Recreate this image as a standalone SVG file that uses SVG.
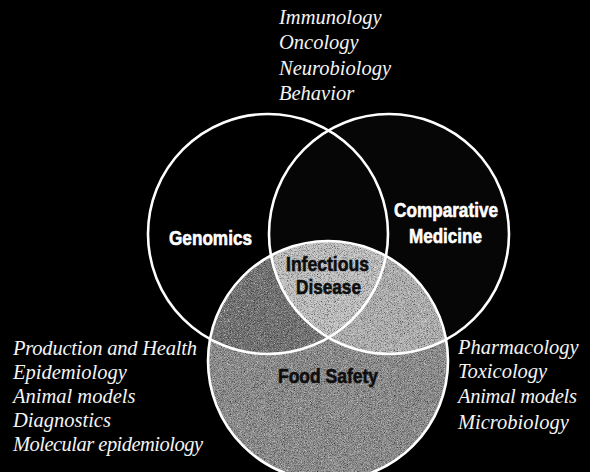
<svg xmlns="http://www.w3.org/2000/svg" width="590" height="472" viewBox="0 0 590 472">
  <defs>
    <style>
      .ring { fill: none; stroke: #ffffff; stroke-width: 2.6; }
      .label { font-family: "Liberation Sans", Arial, sans-serif; font-weight: bold; font-size: 21px; stroke-width: 0.6; stroke-linejoin: round; }
      .light { fill: #ffffff; stroke: #ffffff; }
      .dark { fill: #0e0e0e; stroke: #0e0e0e; }
      .topic { font-family: "Liberation Serif", "Times New Roman", serif; font-style: italic; font-size: 20.5px; fill: #f4f4f4; }
    </style>
    <clipPath id="clip-left"><circle cx="268" cy="234" r="120"/></clipPath>
    <clipPath id="clip-right"><circle cx="389" cy="234" r="120"/></clipPath>
    <!-- fine halftone-like grain for the shaded areas -->
    <filter id="grain" x="0" y="0" width="100%" height="100%" color-interpolation-filters="sRGB">
      <feTurbulence type="fractalNoise" baseFrequency="1.3" numOctaves="1" seed="7" result="noise"/>
      <feColorMatrix in="noise" type="matrix" values="0.33 0.33 0.33 0 0  0.33 0.33 0.33 0 0  0.33 0.33 0.33 0 0  0 0 0 0 1" result="gray"/>
      <feComponentTransfer in="gray" result="contrast">
        <feFuncR type="linear" slope="1.4" intercept="-0.2"/>
        <feFuncG type="linear" slope="1.4" intercept="-0.2"/>
        <feFuncB type="linear" slope="1.4" intercept="-0.2"/>
      </feComponentTransfer>
      <feBlend in="SourceGraphic" in2="contrast" mode="overlay" result="mix"/>
      <feComposite in="mix" in2="SourceGraphic" operator="in"/>
    </filter>
  </defs>

  <rect width="590" height="472" fill="#000000"/>

  <!-- shaded regions of the three sets -->
  <g id="regions">
    <circle cx="389" cy="234" r="120" fill="#060606"/>
    <g filter="url(#grain)">
      <circle cx="328" cy="361" r="120" fill="#8c8c8c"/>
      <g clip-path="url(#clip-left)">
        <circle cx="328" cy="361" r="120" fill="#727272"/>
      </g>
      <g clip-path="url(#clip-right)">
        <circle cx="328" cy="361" r="120" fill="#b0b0b0"/>
      </g>
      <g clip-path="url(#clip-left)">
        <g clip-path="url(#clip-right)">
          <circle cx="328" cy="361" r="120" fill="#c0c0c0"/>
        </g>
      </g>
    </g>
  </g>

  <g id="genomics">
    <circle class="ring" cx="268" cy="234" r="120"/>
    <text class="label light" x="169" y="245" textLength="83" lengthAdjust="spacingAndGlyphs">Genomics</text>
  </g>

  <g id="comparative-medicine">
    <circle class="ring" cx="389" cy="234" r="120"/>
    <text class="label light" x="394" y="217" textLength="104" lengthAdjust="spacingAndGlyphs">Comparative</text>
    <text class="label light" x="409" y="243" textLength="73" lengthAdjust="spacingAndGlyphs">Medicine</text>
  </g>

  <g id="food-safety">
    <circle class="ring" cx="328" cy="361" r="120"/>
    <text class="label dark" x="278" y="383" textLength="100" lengthAdjust="spacingAndGlyphs">Food Safety</text>
  </g>

  <g id="infectious-disease">
    <text class="label dark" x="286" y="271" textLength="83" lengthAdjust="spacingAndGlyphs">Infectious</text>
    <text class="label dark" x="296" y="294" textLength="65" lengthAdjust="spacingAndGlyphs">Disease</text>
  </g>

  <g id="topics-top">
    <text class="topic" x="279" y="24">Immunology</text>
    <text class="topic" x="279" y="49">Oncology</text>
    <text class="topic" x="279" y="75">Neurobiology</text>
    <text class="topic" x="279" y="100">Behavior</text>
  </g>

  <g id="topics-left">
    <text class="topic" x="13" y="355" textLength="184">Production and Health</text>
    <text class="topic" x="13" y="379">Epidemiology</text>
    <text class="topic" x="13" y="403">Animal models</text>
    <text class="topic" x="13" y="427">Diagnostics</text>
    <text class="topic" x="13" y="451" textLength="190">Molecular epidemiology</text>
  </g>

  <g id="topics-right">
    <text class="topic" x="458" y="354">Pharmacology</text>
    <text class="topic" x="458" y="378">Toxicology</text>
    <text class="topic" x="458" y="403" textLength="119">Animal models</text>
    <text class="topic" x="458" y="429">Microbiology</text>
  </g>
</svg>
